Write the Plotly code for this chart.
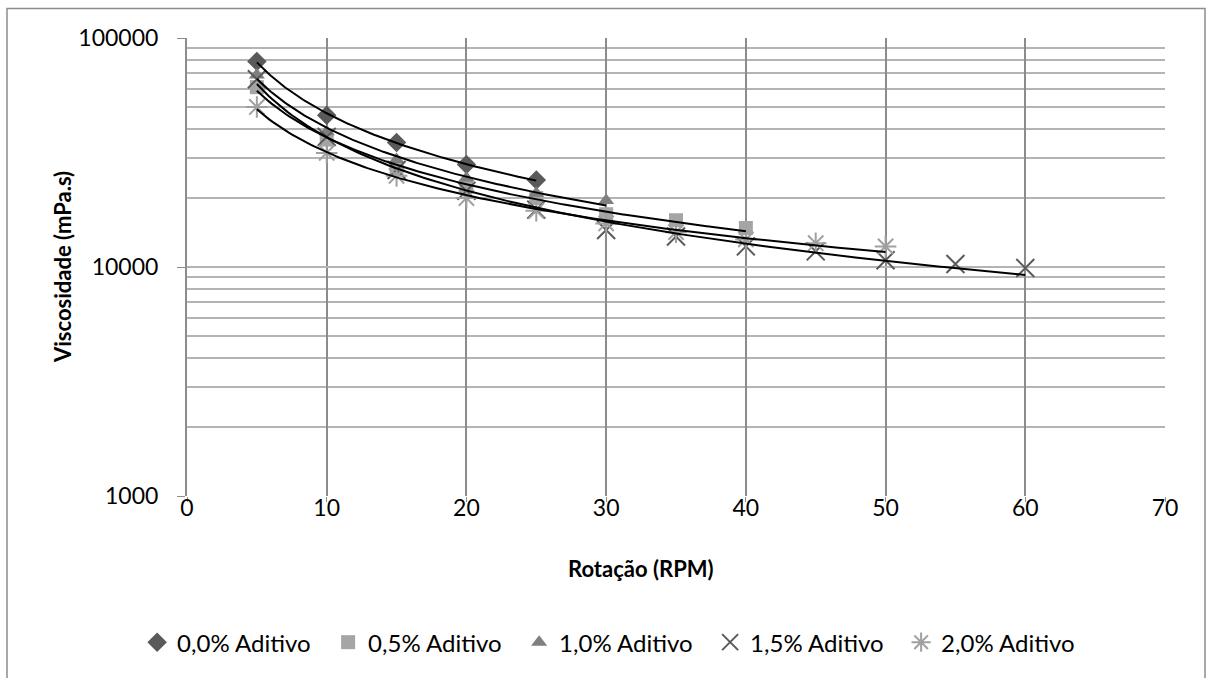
import numpy as np
import plotly.graph_objects as go

# Viscosity (mPa.s) versus spindle rotation (RPM) for each additive content
rpm_00 = [5, 10, 15, 20, 25]
visc_00 = [79000, 46000, 35000, 28000, 24000]

rpm_05 = [5, 10, 15, 20, 25, 30, 35, 40]
visc_05 = [61000, 36000, 27000, 22500, 20000, 17000, 16000, 14800]

rpm_10 = [5, 10, 15, 20, 25, 30]
visc_10 = [69000, 39000, 29500, 24500, 21000, 19500]

rpm_15 = [5, 10, 15, 20, 25, 30, 35, 40, 45, 50, 55, 60]
visc_15 = [66000, 37000, 26500, 21500, 17800, 14500, 13600, 12300, 11700, 10700, 10300, 9900]

rpm_20 = [5, 10, 15, 20, 25, 30, 35, 40, 45, 50]
visc_20 = [50000, 31500, 25000, 20000, 17600, 15500, 14200, 13200, 12700, 12300]

series_names = ["0,0% Aditivo", "0,5% Aditivo", "1,0% Aditivo", "1,5% Aditivo", "2,0% Aditivo"]

x_ticks = [0, 10, 20, 30, 40, 50, 60, 70]
y_ticks = [1000, 10000, 100000]

FONT = "Lato"

series = [
    (rpm_00, visc_00, dict(symbol="diamond", size=15, color="#5a5a5a")),
    (rpm_05, visc_05, dict(symbol="square", size=14, color="#a5a5a5")),
    (rpm_10, visc_10, dict(symbol="triangle-up", size=14, color="#7f7f7f")),
    (rpm_15, visc_15, dict(symbol="x-thin-open", size=18, color="#5a5a5a",
                           line=dict(width=2, color="#5a5a5a"))),
    (rpm_20, visc_20, dict(symbol="asterisk-open", size=18, color="#a0a0a0",
                           line=dict(width=2, color="#a0a0a0"))),
]

fig = go.Figure()

for (xs, ys, mk), name in zip(series, series_names):
    fig.add_trace(go.Scatter(x=xs, y=ys, mode="markers", name=name, marker=mk))

# Power-law trend line y = a * x^b for every series, fitted in log-log space
for xs, ys, _ in series:
    lx, ly = np.log(xs), np.log(ys)
    b, ln_a = np.polyfit(lx, ly, 1)
    xf = np.linspace(min(xs), max(xs), 200)
    yf = np.exp(ln_a) * xf ** b
    fig.add_trace(go.Scatter(x=xf, y=yf, mode="lines", showlegend=False,
                             line=dict(color="#000000", width=2), hoverinfo="skip"))

fig.update_layout(
    width=1206, height=678,
    margin=dict(l=187, r=41, t=38, b=182),
    paper_bgcolor="white", plot_bgcolor="white",
    font=dict(family=FONT, size=23, color="#000000"),
    showlegend=True,
    legend=dict(orientation="h", x=-0.051, xanchor="left", y=-0.32, yanchor="middle",
                font=dict(family=FONT, size=24), entrywidth=146, entrywidthmode="pixels",
                itemsizing="trace"),
    xaxis=dict(
        range=[0, 70], tickvals=x_ticks, ticktext=[str(v) for v in x_ticks],
        showgrid=True, gridcolor="#8c8c8c", gridwidth=1.5,
        showline=False, zeroline=False,
        ticks="outside", ticklen=5, tickcolor="#8c8c8c",
        ticklabelstandoff=-14,
        tickfont=dict(family=FONT, size=23),
    ),
    yaxis=dict(
        type="log", range=[3, 5], tickvals=y_ticks, ticktext=[str(v) for v in y_ticks],
        showgrid=True, gridcolor="#b4b4b4", gridwidth=1.5,
        minor=dict(showgrid=True, gridcolor="#b4b4b4", gridwidth=1.5, dtick="D1"),
        showline=True, linecolor="#8c8c8c", linewidth=2,
        zeroline=False,
        ticks="outside", ticklen=8, tickcolor="#8c8c8c",
        ticklabelstandoff=14,
        tickfont=dict(family=FONT, size=23),
    ),
    annotations=[
        dict(text="<b>Rotação (RPM)</b>", xref="paper", yref="paper",
             x=(641 - 187) / 978, y=(495.5 - 568) / 457, xanchor="center", yanchor="middle",
             showarrow=False, font=dict(family=FONT, size=22)),
        dict(text="<b>Viscosidade (mPa.s)</b>", xref="paper", yref="paper",
             x=(62 - 187) / 978, y=0.5, xanchor="center", yanchor="middle", textangle=-90,
             showarrow=False, font=dict(family=FONT, size=22)),
    ],
    shapes=[
        dict(type="rect", xref="paper", yref="paper",
             x0=(7 - 187) / 978, x1=(1205 - 187) / 978,
             y0=(495.5 - 700) / 457, y1=(495.5 - 9) / 457,
             line=dict(color="#8c8c8c", width=1.5), layer="below"),
    ],
)

fig.write_html("out.html")
